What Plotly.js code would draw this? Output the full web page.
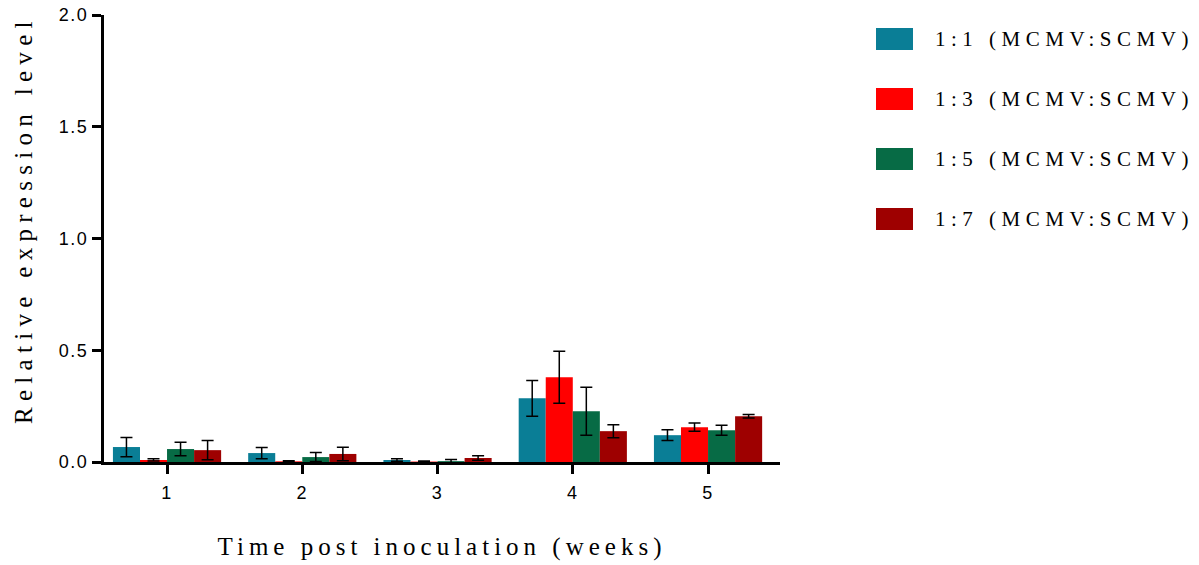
<!DOCTYPE html>
<html>
<head>
<meta charset="utf-8">
<script src="https://cdn.plot.ly/plotly-3.0.1.min.js"></script>
<style>
  html, body { margin: 0; padding: 0; background: #fff; }
  #chart { width: 1199px; height: 565px; }
  .ytick text, .xtick text { letter-spacing: 1.5px; }
  .g-xtitle text { letter-spacing: 5px; }
  .annotation-text { letter-spacing: 5.5px; }
  .ytitle-note .annotation-text { letter-spacing: 6.3px; }
</style>
</head>
<body>
<div id="chart"></div>
<script>
// Weeks after inoculation
const weeks = [1, 2, 3, 4, 5];
const weekLabels = ['1', '2', '3', '4', '5'];

// Mixed-infection ratios (MCMV:SCMV)
const seriesNames = ['1:1 (MCMV:SCMV)', '1:3 (MCMV:SCMV)', '1:5 (MCMV:SCMV)', '1:7 (MCMV:SCMV)'];
const seriesColors = ['#0A7E96', '#FF0000', '#076B45', '#9E0000'];

// Mean relative expression per week
const ratio1to1 = [0.067, 0.040, 0.009, 0.285, 0.120];
const ratio1to3 = [0.009, 0.003, 0.002, 0.379, 0.156];
const ratio1to5 = [0.058, 0.022, 0.004, 0.227, 0.142];
const ratio1to7 = [0.053, 0.036, 0.018, 0.138, 0.205];

// Standard deviation per week
const err1to1 = [0.043, 0.025, 0.006, 0.080, 0.024];
const err1to3 = [0.005, 0.003, 0.002, 0.116, 0.018];
const err1to5 = [0.030, 0.020, 0.007, 0.107, 0.022];
const err1to7 = [0.043, 0.030, 0.010, 0.029, 0.008];

const yTicks = [0, 0.5, 1.0, 1.5, 2.0];
const yTickLabels = ['0.0', '0.5', '1.0', '1.5', '2.0'];

const means = [ratio1to1, ratio1to3, ratio1to5, ratio1to7];
const errs = [err1to1, err1to3, err1to5, err1to7];

const traces = means.map((vals, i) => ({
  type: 'bar',
  name: seriesNames[i],
  x: weeks,
  y: vals,
  marker: { color: seriesColors[i], line: { width: 0 } },
  error_y: { type: 'data', array: errs[i], visible: true, color: '#000', thickness: 1.5, width: 6 },
  showlegend: false,
  hoverinfo: 'x+y'
}));

// Page geometry used to place the side legend and the y-axis title
const W = 1199, H = 565;
const M = { l: 104, r: 419, t: 15, b: 103 };
const plotW = W - M.l - M.r, plotH = H - M.t - M.b;
const px = (x) => (x - M.l) / plotW;
const py = (y) => (H - M.b - y) / plotH;

// Legend: coloured blocks with labels to the right of the plot
const shapes = [];
const annotations = [];
const legendTop = 39, legendStep = 60;
seriesNames.forEach((name, i) => {
  const cy = legendTop + i * legendStep;
  shapes.push({
    type: 'rect', xref: 'paper', yref: 'paper',
    x0: px(876), x1: px(913), y0: py(cy + 11), y1: py(cy - 11),
    fillcolor: seriesColors[i], line: { width: 0 }
  });
  annotations.push({
    xref: 'paper', yref: 'paper',
    x: px(933), y: py(cy),
    xanchor: 'left', yanchor: 'middle',
    text: name, showarrow: false,
    font: { family: 'Liberation Serif, serif', size: 21, color: '#000' }
  });
});

// Y-axis title
annotations.push({
  xref: 'paper', yref: 'paper',
  x: px(23), y: py(220),
  xanchor: 'center', yanchor: 'middle',
  textangle: -90,
  text: 'Relative expression level', showarrow: false,
  font: { family: 'Liberation Serif, serif', size: 25, color: '#000' }
});

const layout = {
  width: W,
  height: H,
  margin: M,
  paper_bgcolor: '#fff',
  plot_bgcolor: '#fff',
  barmode: 'group',
  bargap: 0.2,
  bargroupgap: 0,
  showlegend: false,
  xaxis: {
    range: [0.534, 5.532],
    tickmode: 'array',
    tickvals: weeks,
    ticktext: weekLabels,
    showline: true, linecolor: '#000', linewidth: 3,
    ticks: 'outside', ticklen: 9, tickwidth: 3, tickcolor: '#000',
    ticklabelstandoff: 3,
    showgrid: false, zeroline: false,
    tickfont: { family: 'Liberation Sans, Arial, sans-serif', size: 18, color: '#000' },
    title: {
      text: 'Time post inoculation (weeks)',
      font: { family: 'Liberation Serif, serif', size: 25, color: '#000' },
      standoff: 36
    }
  },
  yaxis: {
    range: [0, 2.0],
    tickmode: 'array',
    tickvals: yTicks,
    ticktext: yTickLabels,
    showline: true, linecolor: '#000', linewidth: 3,
    ticks: 'outside', ticklen: 9, tickwidth: 3, tickcolor: '#000',
    showgrid: false, zeroline: false,
    tickfont: { family: 'Liberation Sans, Arial, sans-serif', size: 18, color: '#000' }
  },
  shapes: shapes,
  annotations: annotations
};

Plotly.newPlot('chart', traces, layout, { displayModeBar: false, staticPlot: true }).then((gd) => {
  // tag the rotated y title so it can take its own letter spacing
  const notes = gd.querySelectorAll('.annotation');
  notes[notes.length - 1].classList.add('ytitle-note');
});
</script>
</body>
</html>
